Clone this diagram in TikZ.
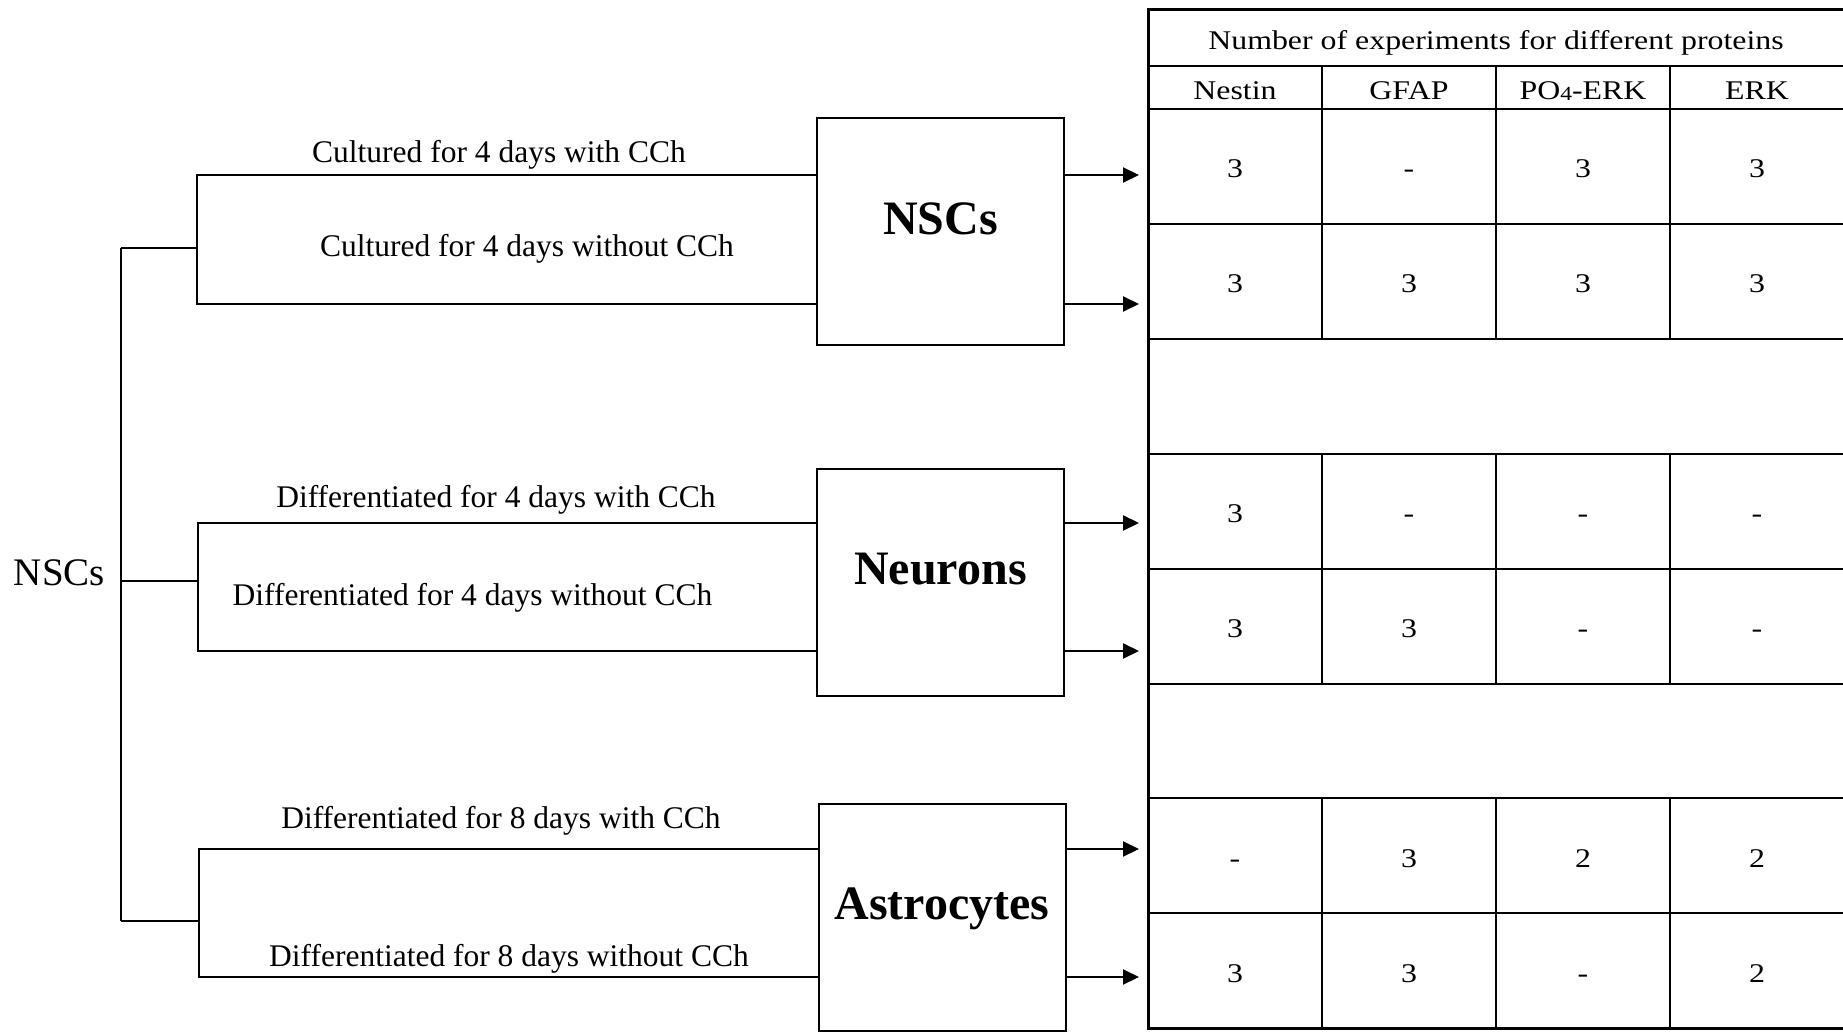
\documentclass[tikz,border=0pt]{standalone}
\usepackage{fontspec}
\setmainfont{Liberation Serif}
\newfontfamily\tabfont[FakeStretch=1.18]{Liberation Serif}
\usepackage{tikz}
\usetikzlibrary{matrix,arrows.meta}

\tikzset{
	conn/.style={line width=2pt},
	arr/.style={conn, -{Triangle[length=16pt,width=15pt]}, shorten >=9pt},
	gridline/.style={line width=2pt},
	outerline/.style={line width=3pt},
	stagebox/.style={draw, line width=2pt, minimum width=247pt, minimum height=227pt, inner sep=0},
	stagetext/.style={font=\fontsize{48}{58}\selectfont\bfseries, anchor=base, inner sep=0},
	cond/.style={font=\fontsize{31.5}{38}\selectfont, anchor=base, inner sep=0},
	srctext/.style={font=\fontsize{39}{47}\selectfont, anchor=base, inner sep=0},
	cell/.style={minimum width=174pt, minimum height=114.9pt, inner sep=0, outer sep=0, text height=23pt, text depth=0pt, font=\tabfont\fontsize{27}{32}\selectfont}
}

\begin{document}
\begin{tikzpicture}[x=1pt,y=-1pt]
		\useasboundingbox (0,0) rectangle (1843,1032);

		\matrix (tab) [matrix of nodes, nodes in empty cells, anchor=north west, inner sep=0, outer sep=0, column sep=0, row sep=0, nodes={cell}, row 1/.style={nodes={minimum height=43pt}}] at (1148,66) {
			Nestin & GFAP & PO\raisebox{-1pt}{\fontsize{20}{20}\selectfont 4}-ERK & ERK \\
			3 & - & 3 & 3 \\
			3 & 3 & 3 & 3 \\
			 & & & \\
			3 & - & - & - \\
			3 & 3 & - & - \\
			 & & & \\
			- & 3 & 2 & 2 \\
			3 & 3 & - & 2 \\
		};
		\node[cell, minimum width=696pt, minimum height=56pt, anchor=south west] (ttl) at (tab.north west) {Number of experiments for different proteins};
		\draw[outerline] ([xshift=10pt]ttl.north east) -- (ttl.north west) -- (tab.south west) -- ([xshift=10pt]tab.south east);
		\draw[gridline] (ttl.south west) -- ([xshift=10pt]ttl.south east);
		\foreach \r in {1,...,8}{
			\draw[gridline] (tab-\r-1.south west) -- ([xshift=10pt]tab-\r-4.south east);
		}
		\foreach \a/\b in {1/3,5/6,8/9}{
			\foreach \c in {1,2,3}{
				\draw[gridline] (tab-\a-\c.north east) -- (tab-\b-\c.south east);
			}
		}

		\node[srctext] (src) at (59.5,585) {NSCs};
		\coordinate (top) at (121,248);
		\coordinate (bot) at (121,921);
		\draw[conn] (top) -- (bot);

		\node[stagebox] (nscbox) at (940.5,231.5) {};
		\node[stagebox] (neubox) at (940.5,582) {};
		\node[stagebox] (astbox) at (942.5,917) {};
		\node[stagetext] (nsct) at (940.5,235) {NSCs};
		\node[stagetext] (neut) at (940.5,584) {Neurons};
		\node[stagetext] (astt) at (942,919) {Astrocytes};

		\foreach \n/\bx/\j/\t/\b/\stage in {a/197/248/175/304/nscbox, b/198/581/523/651/neubox, c/199/921/849/977/astbox}{
			\coordinate (\n-join) at (\bx,\j);
			\coordinate (\n-up) at (\bx,\t);
			\coordinate (\n-dn) at (\bx,\b);
			\draw[conn] (top |- \n-join) -- (\n-join);
			\draw[conn] (\stage.west |- \n-up) -- (\n-up) -- (\n-dn) -- (\stage.west |- \n-dn);
			\draw[arr] (\stage.east |- \n-up) -- (tab.west |- \n-up);
			\draw[arr] (\stage.east |- \n-dn) -- (tab.west |- \n-dn);
		}

		\node[cond] (c1) at (499,163) {Cultured for 4 days with CCh};
		\node[cond] (c2) at (527,256) {Cultured for 4 days without CCh};
		\node[cond] (d1) at (496,507) {Differentiated for 4 days with CCh};
		\node[cond] (d2) at (472.5,605) {Differentiated for 4 days without CCh};
		\node[cond] (d3) at (501,828) {Differentiated for 8 days with CCh};
		\node[cond] (d4) at (509,966) {Differentiated for 8 days without CCh};
	\end{tikzpicture}
\end{document}
